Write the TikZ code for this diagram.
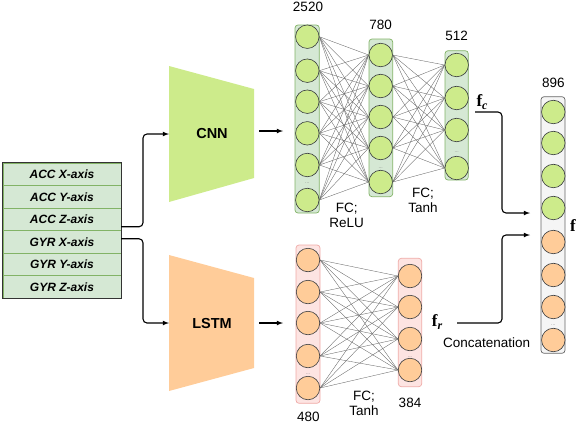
\documentclass[tikz,border=0pt]{standalone}
\usepackage[no-math]{fontspec}
\setmainfont{Liberation Sans}
\newfontfamily\vecfont{Liberation Serif}
\usetikzlibrary{positioning}
\definecolor{cnnfill}{HTML}{CDEB8B}
\definecolor{rnnfill}{HTML}{FFCC99}
\definecolor{colgreen}{HTML}{D5E8D4}
\definecolor{colgreenline}{HTML}{82B366}
\definecolor{colpink}{HTML}{FDE4E2}
\definecolor{colpinkline}{HTML}{EFA9A6}
\definecolor{colgray}{HTML}{F5F5F5}
\definecolor{colgrayline}{HTML}{666666}
\definecolor{circline}{HTML}{36393D}
\newcommand{\featvec}[1]{f\raisebox{-0.35ex}{\fontsize{12}{13}\selectfont\itshape #1}}
\tikzset{
  neuron/.style={circle, draw=circline, line width=0.6pt, minimum size=23.5pt, inner sep=0pt},
  greenn/.style={neuron, fill=cnnfill},
  orangen/.style={neuron, fill=rnnfill},
  column/.style={rounded corners=3pt, line width=0.7pt},
  wire/.style={black!60, line width=0.35pt},
  conn/.style={->, >=latex, line width=1.1pt, rounded corners=4pt},
  lbl/.style={font=\fontsize{13.5}{15}\selectfont, align=center, inner sep=0pt},
  vec/.style={font=\vecfont\bfseries\fontsize{17}{19}\selectfont, inner sep=0pt},
  dots/.style={font=\tiny, text=gray, inner sep=0pt},
  axis/.style={draw=colgreenline, fill=colgreen, minimum width=118pt, minimum height=22.5pt, inner sep=0pt, font=\fontsize{12}{14}\selectfont\bfseries\itshape},
}
\begin{document}
\begin{tikzpicture}[x=1pt,y=-1pt]
  \useasboundingbox (0,0) rectangle (580,424);
  % input signals
  \foreach \n/\t [count=\k] in {accx/ACC X-axis, accy/ACC Y-axis, accz/ACC Z-axis, gyrx/GYR X-axis, gyry/GYR Y-axis, gyrz/GYR Z-axis}
    \node[axis] (\n) at (62,{163+22.5*\k-11.25}) {\t};
  \draw[line width=0.8pt, black!80] (accx.north west) rectangle (gyrz.south east);
  % encoders
  \fill[cnnfill] (169,66) -- (254,89) -- (254,178) -- (169,202) -- cycle;
  \fill[rnnfill] (169,255) -- (254,278) -- (254,368) -- (169,391) -- cycle;
  \node[font=\fontsize{14.5}{16}\selectfont\bfseries] (cnn) at (212,134) {CNN};
  \node[font=\fontsize{14.5}{16}\selectfont\bfseries] (lstm) at (212,323) {LSTM};
  \coordinate (cnn-in) at (169,134);
  \coordinate (lstm-in) at (169,323);
  \draw[conn] ([yshift=-7.5pt]accz.east) -| ([xshift=-26pt]cnn-in) -- (cnn-in);
  \draw[conn] ([yshift=3pt]gyrx.east) -| ([xshift=-26pt]lstm-in) -- (lstm-in);
  \coordinate (cnn-out) at (259,131);
  \coordinate (lstm-out) at (259,323);
  \draw[conn] (cnn-out) -- ++(24,0);
  \draw[conn] (lstm-out) -- ++(24,0);
  % layer boxes
  \draw[column, draw=colgreenline, fill=colgreen] (295,25) rectangle (319.3,213);
  \draw[column, draw=colgreenline, fill=colgreen] (369,39) rectangle (392.7,196.7);
  \draw[column, draw=colgreenline, fill=colgreen] (445,50.7) rectangle (468.3,180);
  \draw[column, draw=colpinkline, fill=colpink] (296,245) rectangle (320,403.3);
  \draw[column, draw=colpinkline, fill=colpink] (398.3,258.3) rectangle (421.7,386.7);
  \draw[column, draw=colgrayline, fill=colgray] (541,96.7) rectangle (565,353.3);
  % neurons
  \foreach \y [count=\k] in {36.7,70.7,101.7,133.3,165,200}
    \node[greenn] (cnnA-\k) at (307.3,\y) {};
  \foreach \y [count=\k] in {55,86,117,148,182}
    \node[greenn] (cnnB-\k) at (380.7,\y) {};
  \foreach \y [count=\k] in {65,98,130,168}
    \node[greenn] (cnnC-\k) at (456.7,\y) {};
  \foreach \y [count=\k] in {260,292,323,356,388}
    \node[orangen] (lstmA-\k) at (308,\y) {};
  \foreach \y [count=\k] in {276,307,339,370}
    \node[orangen] (lstmB-\k) at (410,\y) {};
  \foreach \y [count=\k] in {112,143,176,208}
    \node[greenn] (cat-\k) at (553.3,\y) {};
  \foreach \y [count=\k from 5] in {242,275,307,340}
    \node[orangen] (cat-\k) at (553.3,\y) {};
  % fully connected
  \foreach \i in {1,...,6} \foreach \j in {1,...,5} \draw[wire] (cnnA-\i.east) -- (cnnB-\j.west);
  \foreach \i in {1,...,5} \foreach \j in {1,...,4} \draw[wire] (cnnB-\i.east) -- (cnnC-\j.west);
  \foreach \i in {1,...,5} \foreach \j in {1,...,4} \draw[wire] (lstmA-\i.east) -- (lstmB-\j.west);
  \node[dots] at (307.3,183) {...};
  \node[dots] at (380.7,168) {...};
  \node[dots] at (456.7,152) {...};
  \node[dots] at (308,374) {...};
  \node[dots] at (410,357) {...};
  \node[dots] at (553.3,325) {...};
  % sizes
  \node[lbl] (n2520) at (308,6.5) {2520};
  \node[lbl] (n780) at (380.7,25) {780};
  \node[lbl] (n512) at (456.7,36) {512};
  \node[lbl] (n896) at (553.3,82.5) {896};
  \node[lbl] (n480) at (308.3,416.5) {480};
  \node[lbl] (n384) at (410,403) {384};
  \node[lbl] (relu) at (346.7,215) {FC;\\ReLU};
  \node[lbl] (tanhA) at (423,200) {FC;\\Tanh};
  \node[lbl] (tanhB) at (364,403) {FC;\\Tanh};
  % concatenation
  \node[vec] (fc) at (482,102) {\featvec{c}};
  \node[vec] (fr) at (437,322) {\featvec{r}};
  \node[vec] (f) at (573,226) {f};
  \node[lbl] (concat) at (486.7,343) {Concatenation};
  \coordinate (fc-out) at (475,112);
  \coordinate (fr-out) at (457,323);
  \coordinate (cat-in1) at (530,213);
  \coordinate (cat-in2) at (530,235);
  \draw[conn] (fc-out) -| ([xshift=-28pt]cat-in1) -- (cat-in1);
  \draw[conn] (fr-out) -| ([xshift=-28pt]cat-in2) -- (cat-in2);
\end{tikzpicture}
\end{document}
